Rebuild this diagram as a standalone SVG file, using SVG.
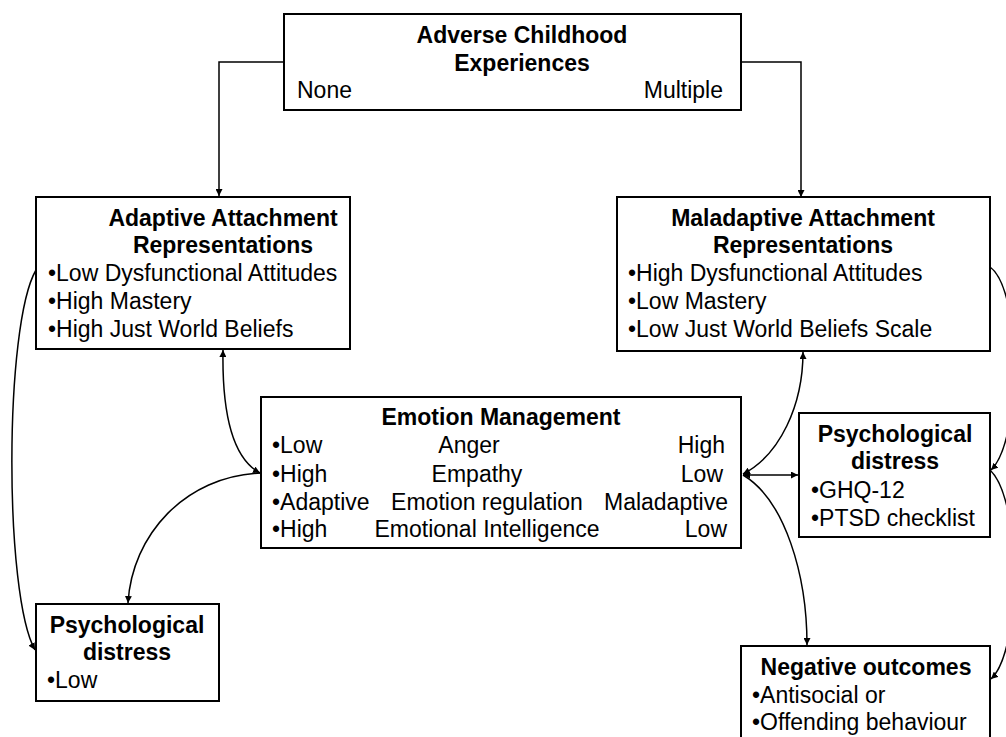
<svg xmlns="http://www.w3.org/2000/svg" width="1006" height="737" viewBox="0 0 1006 737">
  <style>
    .box { fill: #ffffff; stroke: #000000; stroke-width: 2; }
    .t { font-family: "Liberation Sans", Arial, sans-serif; font-size: 23px; fill: #000000; }
    .b { font-weight: bold; }
    .c { text-anchor: middle; }
    .r { text-anchor: end; }
    .link { fill: none; stroke: #000000; stroke-width: 1.5; }
  </style>
  <defs>
    <marker id="arrow" viewBox="0 0 10 10" refX="10" refY="5" markerWidth="7" markerHeight="7" orient="auto-start-reverse" markerUnits="userSpaceOnUse">
      <path d="M0,0 L10,5 L0,10 Z" fill="#000000"/>
    </marker>
  </defs>
  <rect width="1006" height="737" fill="#ffffff"/>

  <!-- connectors -->
  <g id="connectors">
    <path class="link" d="M284,62 H219 V196" marker-end="url(#arrow)"/>
    <path class="link" d="M741,62 H801 V197" marker-end="url(#arrow)"/>
    <!-- adaptive attachment <-> emotion management -->
    <path class="link" d="M223,350 C222,410 232,458 260,473" marker-start="url(#arrow)" marker-end="url(#arrow)"/>
    <!-- emotion management -> low distress -->
    <path class="link" d="M261,473 C185,476 132,535 128,603" marker-end="url(#arrow)"/>
    <!-- adaptive attachment -> low distress -->
    <path class="link" d="M36,270 C4,325 4,595 35,650" marker-end="url(#arrow)"/>
    <!-- maladaptive attachment <-> emotion management -->
    <path class="link" d="M803,352 C803,405 780,455 743,474" marker-start="url(#arrow)" marker-end="url(#arrow)"/>
    <!-- emotion management <-> psychological distress -->
    <path class="link" d="M743,475 H798" marker-start="url(#arrow)" marker-end="url(#arrow)"/>
    <!-- emotion management -> negative outcomes -->
    <path class="link" d="M743,475 C785,500 807,575 807,645" marker-end="url(#arrow)"/>
    <!-- right-hand arcs -->
    <path class="link" d="M990,267 C1022,290 1022,440 991,470" marker-end="url(#arrow)"/>
    <path class="link" d="M990,470 C1022,500 1022,650 991,679" marker-end="url(#arrow)"/>
  </g>

  <g id="ace">
    <rect class="box" x="284" y="14" width="457" height="96"/>
    <text class="t b c" x="522" y="43">Adverse Childhood</text>
    <text class="t b c" x="522" y="71">Experiences</text>
    <text class="t" x="297" y="98">None</text>
    <text class="t r" x="723" y="98">Multiple</text>
  </g>

  <g id="adaptive">
    <rect class="box" x="36" y="197" width="314" height="152"/>
    <text class="t b c" x="223" y="226">Adaptive Attachment</text>
    <text class="t b c" x="223" y="253">Representations</text>
    <text class="t" x="48" y="281">•Low Dysfunctional Attitudes</text>
    <text class="t" x="48" y="309">•High Mastery</text>
    <text class="t" x="48" y="337">•High Just World Beliefs</text>
  </g>

  <g id="maladaptive">
    <rect class="box" x="617" y="197" width="373" height="154"/>
    <text class="t b c" x="803" y="226">Maladaptive Attachment</text>
    <text class="t b c" x="803" y="253">Representations</text>
    <text class="t" x="628" y="281">•High Dysfunctional Attitudes</text>
    <text class="t" x="628" y="309">•Low Mastery</text>
    <text class="t" x="628" y="337">•Low Just World Beliefs Scale</text>
  </g>

  <g id="emotion">
    <rect class="box" x="261" y="397" width="480" height="151"/>
    <text class="t b c" x="501" y="425">Emotion Management</text>
    <text class="t" x="272" y="453">•Low</text>
    <text class="t c" x="469" y="453">Anger</text>
    <text class="t r" x="725" y="453">High</text>
    <text class="t" x="272" y="482">•High</text>
    <text class="t c" x="477" y="482">Empathy</text>
    <text class="t r" x="723" y="482">Low</text>
    <text class="t" x="272" y="510">•Adaptive</text>
    <text class="t c" x="487" y="510">Emotion regulation</text>
    <text class="t r" x="728" y="510">Maladaptive</text>
    <text class="t" x="272" y="537">•High</text>
    <text class="t c" x="487" y="537">Emotional Intelligence</text>
    <text class="t r" x="727" y="537">Low</text>
  </g>

  <g id="distress-high">
    <rect class="box" x="799" y="413" width="191" height="124"/>
    <text class="t b c" x="895" y="442">Psychological</text>
    <text class="t b c" x="895" y="469">distress</text>
    <text class="t" x="811" y="498">•GHQ-12</text>
    <text class="t" x="811" y="526">•PTSD checklist</text>
  </g>

  <g id="distress-low">
    <rect class="box" x="36" y="604" width="183" height="97"/>
    <text class="t b c" x="127" y="633">Psychological</text>
    <text class="t b c" x="127" y="660">distress</text>
    <text class="t" x="47" y="688">•Low</text>
  </g>

  <g id="outcomes">
    <rect class="box" x="741" y="646" width="249" height="100"/>
    <text class="t b c" x="866" y="675">Negative outcomes</text>
    <text class="t" x="752" y="703">•Antisocial or</text>
    <text class="t" x="752" y="730">•Offending behaviour</text>
  </g>
</svg>
